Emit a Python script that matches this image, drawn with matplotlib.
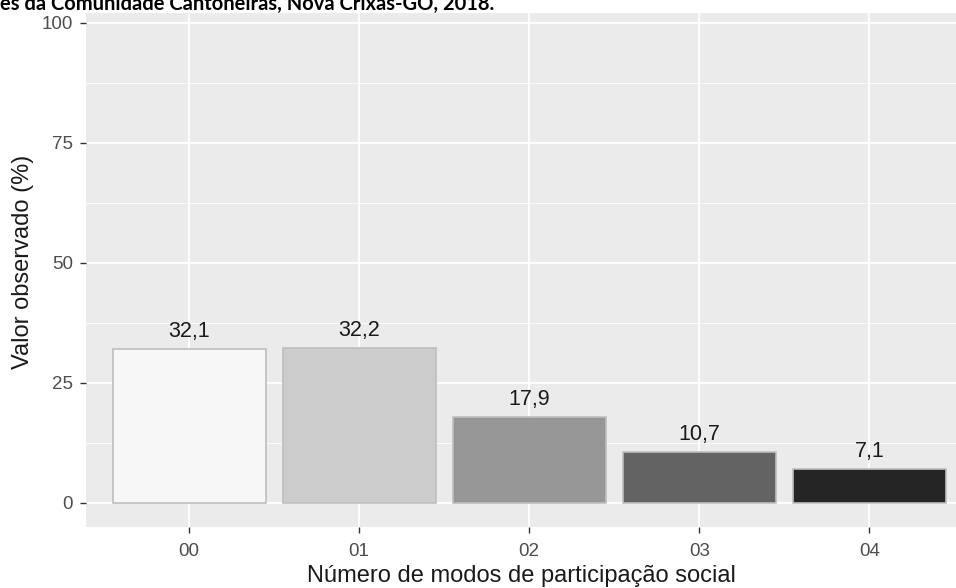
import matplotlib
matplotlib.use("Agg")
import matplotlib.pyplot as plt

categories = ["00", "01", "02", "03", "04"]
values = [32.1, 32.2, 17.9, 10.7, 7.1]
labels = ["32,1", "32,2", "17,9", "10,7", "7,1"]
fills = ["#F7F7F7", "#CCCCCC", "#969696", "#636363", "#252525"]
yticks = [0, 25, 50, 75, 100]

plt.rcParams['font.family'] = ['Liberation Sans', 'DejaVu Sans']

W, H = 956, 588
fig = plt.figure(figsize=(W / 100, H / 100), dpi=100)
fig.patch.set_facecolor("white")
left, right, top, bottom = 86, 956, 13, 527
ax = fig.add_axes([left / W, (H - bottom) / H, (right - left) / W, (bottom - top) / H])
ax.set_facecolor("#EBEBEB")

x = list(range(len(categories)))
ax.bar(x, values, width=0.9, color=fills, edgecolor="#BEBEBE", linewidth=1.2, zorder=3)
for xi, v, lab in zip(x, values, labels):
    ax.annotate(lab, (xi, v), xytext=(0, 5), textcoords="offset points",
                ha="center", va="bottom", fontsize=15.5, color="#1A1A1A", zorder=4)

ax.set_xlim(-0.606, 4.51)
ax.set_ylim(-5, 102)
ax.set_xticks(x)
ax.set_xticklabels(categories)
ax.set_yticks(yticks)
ax.set_yticks([12.5, 37.5, 62.5, 87.5], minor=True)
ax.grid(True, which="major", color="white", linewidth=1.3, zorder=0)
ax.grid(True, which="minor", axis="y", color="white", linewidth=0.6, zorder=0)
ax.tick_params(which="minor", length=0)
ax.tick_params(which="major", length=4.3, width=1, color="#333333",
               labelcolor="#4D4D4D", labelsize=13.5, pad=5)
ax.tick_params(axis="x", which="major", pad=7)
ax.set_axisbelow(True)
for s in ax.spines.values():
    s.set_visible(False)

ax.set_xlabel("Número de modos de participação social", fontsize=17, color="#1A1A1A", labelpad=4)
ax.set_ylabel("Valor observado (%)", fontsize=17, color="#1A1A1A")
ax.yaxis.set_label_coords(-52 / (right - left), (bottom - 262) / (bottom - top))

fig.text(0, 1 - 10 / H, "es da Comunidade Cantoneiras, Nova Crixás-GO, 2018.",
         fontsize=14.5, fontweight="bold", family=["Lato", "DejaVu Sans"],
         ha="left", va="baseline", color="black")

fig.savefig("out.png", dpi=100)
